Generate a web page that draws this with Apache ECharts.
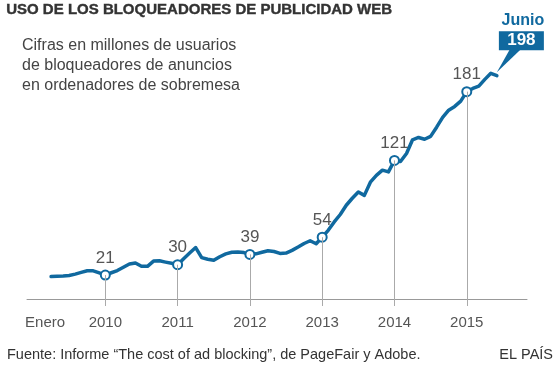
<!DOCTYPE html>
<html><head><meta charset="utf-8">
<script src="https://cdn.jsdelivr.net/npm/echarts@6/dist/echarts.min.js"></script>
<style>html,body{margin:0;padding:0;background:#fff}#c{width:560px;height:365px}</style>
</head><body><div id="c"></div>
<script>
// Months counted from January 2009 (= 0)
const months = [3,4,5,6,7,8,9,10,11,12,13,14,15,16,17,18,19,20,21,22,23,24,25,26,27,28,29,30,31,32,33,34,35,36,37,38,39,40,41,42,43,44,45,46,47,48,49,50,51,52,53,54,55,56,57,58,59,60,61,62,63,64,65,66,67,68,69,70,71,72,73,74,75,76,77];
// Millions of desktop ad-blocker users
const users = [19.7,20.0,20.2,20.6,21.8,23.3,24.7,24.7,22.9,21,
  23.0,24.9,27.8,30.6,31.5,28.6,28.6,33.2,33.4,32.3,31.3,30,
  35.3,40.2,45,36.2,34.8,33.9,37.0,39.5,40.9,41.2,40.6,39,
  39.5,40.9,42.2,41.5,39.9,40.2,42.5,45.4,48.5,50.9,48.3,54,
  60,67.3,73.8,81.9,88,93.5,90.5,102,108,112.5,111,121,
  120,127,139,141,139.5,142,150,158.5,164.8,168.1,172.7,181,
  183.8,185.8,191.7,197,195];
// Highlighted January values
const markMonths = [12,24,36,48,60,72];
const markValues = [21,30,39,54,121,181];
// Axis labels
const tickValues = [2,12,24,36,48,60,72];
const tickLabels = ['Enero','2010','2011','2012','2013','2014','2015'];
// Callout
const lastMonth = 77;
const lastLabel = 'Junio';
const lastValue = 198;

const BLUE = '#10699f';
const GREY = '#555';
const FONT = 'Liberation Sans, Arial, sans-serif';
const chart = echarts.init(document.getElementById('c'), null, {renderer:'canvas'});

const option = {
  animation:false,
  backgroundColor:'#fff',
  grid:{left:27,right:33,top:24,bottom:59},
  xAxis:{type:'value',min:-1,max:82,
    axisLine:{show:true,lineStyle:{color:'#999',width:1}},
    axisTick:{show:false},splitLine:{show:false},
    axisLabel:{customValues:tickValues,color:GREY,fontSize:15,fontFamily:FONT,margin:9,
      formatter:v=>{const i=tickValues.indexOf(v);return i>=0?tickLabels[i]:'';}}},
  yAxis:{type:'value',min:-6,max:240,show:false,splitLine:{show:false}},
  series:[
    {type:'line',data:[],z:1,silent:true,
      markLine:{silent:true,symbol:['none','none'],label:{show:false},
        lineStyle:{color:'#aaa',width:1,type:'solid'},
        data:markMonths.map((m,i)=>[{coord:[m,-6]},{coord:[m,markValues[i]]}])}},
    {type:'line',z:3,data:months.map((m,i)=>[m,users[i]]),showSymbol:false,
      lineStyle:{color:BLUE,width:3.5,cap:'round',join:'round'}},
    {type:'scatter',z:4,data:markMonths.map((m,i)=>[m,markValues[i]]),symbolSize:9,
      itemStyle:{color:'#fff',borderColor:BLUE,borderWidth:2,opacity:1},
      emphasis:{disabled:true},
      label:{show:true,position:'top',distance:3,color:GREY,fontSize:17,fontFamily:FONT,
        formatter:p=>String(p.value[1])}}
  ]
};
chart.setOption(option);

const [px,py] = chart.convertToPixel({gridIndex:0},[lastMonth,lastValue]);
chart.setOption({graphic:[
  {type:'text',left:6,top:2,style:{text:'USO DE LOS BLOQUEADORES DE PUBLICIDAD WEB',fill:'#333',font:'bold 15px '+FONT,stroke:'#333',lineWidth:0.4}},
  {type:'text',left:22,top:36,style:{text:'Cifras en millones de usuarios\nde bloqueadores de anuncios\nen ordenadores de sobremesa',fill:'#444',font:'16px '+FONT,lineHeight:20}},
  {type:'text',left:7,top:347,style:{text:'Fuente: Informe \u201cThe cost of ad blocking\u201d, de PageFair y Adobe.',fill:'#333',font:'14.5px '+FONT}},
  {type:'text',right:7,top:347,style:{text:'EL PAÍS',fill:'#333',font:'14.5px '+FONT}},
  {type:'polygon',z:10,shape:{points:[[px,py],[px+13,py-23],[px+24,py-23]]},style:{fill:BLUE}},
  {type:'rect',z:10,shape:{x:px+2,y:py-41,width:45,height:19},style:{fill:BLUE}},
  {type:'text',z:11,x:px+24.5,y:py-31.5,style:{text:String(lastValue),fill:'#fff',font:'bold 17px '+FONT,align:'center',verticalAlign:'middle'}},
  {type:'text',z:11,x:px+26,y:py-52,style:{text:lastLabel,fill:BLUE,font:'bold 16px '+FONT,align:'center',verticalAlign:'middle'}}
]});
</script></body></html>
